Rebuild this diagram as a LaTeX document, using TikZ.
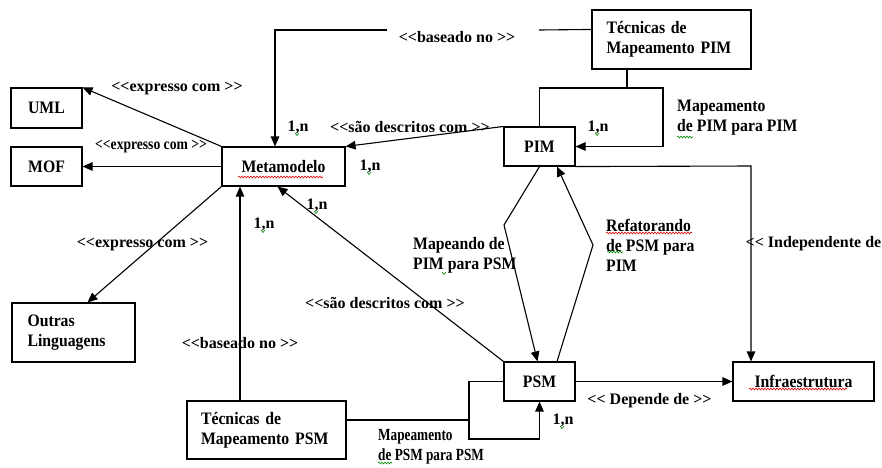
\documentclass[tikz,border=0pt]{standalone}
\usepackage{fontspec}
\setmainfont{Liberation Serif}[Ligatures=TeXOff]
\newfontfamily\bxfont{Liberation Serif}[FakeStretch=0.9,Ligatures=TeXOff]
\newfontfamily\smfont{Liberation Serif}[FakeStretch=0.78,Ligatures=TeXOff]
\newfontfamily\lbfont{Liberation Serif}[Ligatures=TeXOff]
\usetikzlibrary{arrows.meta,calc,decorations.pathmorphing}
\begin{document}
\begin{tikzpicture}[x=1pt,y=-1pt,
  box/.style={draw, line width=1.1pt, inner sep=0pt, align=center,
    font=\bxfont\bfseries\fontsize{17.5}{20}\selectfont},
  lab/.style={inner sep=0pt, font=\lbfont\bfseries\fontsize{16}{18}\selectfont},
  mlab/.style={inner sep=0pt, align=left, anchor=west,
    font=\bxfont\bfseries\fontsize{17.5}{20}\selectfont},
  slab/.style={inner sep=0pt, align=left, anchor=west,
    font=\smfont\bfseries\fontsize{17}{20}\selectfont},
  conn/.style={line width=1.1pt},
  arr/.style={conn, -{Triangle[length=10pt,width=8.5pt]}},
  redwavy/.style={red!85!black, line width=0.6pt, decorate,
    decoration={snake, amplitude=0.9pt, segment length=3pt}},
  greenwavy/.style={green!55!black, line width=0.6pt, decorate,
    decoration={snake, amplitude=0.9pt, segment length=3pt}},
  tick/.style={green!55!black, line width=0.6pt}
]
\useasboundingbox (0,0) rectangle (882,467);

% boxes
\node[box, minimum width=71, minimum height=40] (uml) at (46.5,108) {UML};
\node[box, minimum width=71, minimum height=39] (mof) at (46.5,166.5) {MOF};
\node[box, minimum width=123, minimum height=39] (meta) at (283.5,166.5) {Metamodelo};
\node[box, minimum width=159, minimum height=59, text width=130, align=left] (tecpim) at (671.5,39.5) {Técnicas de\\Mapeamento PIM};
\node[box, minimum width=71, minimum height=39] (pim) at (539.5,146.5) {PIM};
\node[box, minimum width=71, minimum height=39] (psm) at (539.5,381.5) {PSM};
\node[box, minimum width=141, minimum height=39] (infra) at (803.5,381.5) {Infraestrutura};
\node[box, minimum width=123, minimum height=59, text width=92, align=left] (outras) at (73.5,332.5) {Outras\\Linguagens};
\node[box, minimum width=159, minimum height=58, text width=131, align=left] (tecpsm) at (266.5,430) {Técnicas de\\Mapeamento PSM};

% helper coordinates
\coordinate (g1) at (539,30);
\coordinate (g2) at (387,30);
\coordinate (b1) at (275,30);
\coordinate (l1) at (627,88);
\coordinate (l3) at (663,88);
\coordinate (i1) at (751,166);
\coordinate (m1) at (504,225);
\coordinate (r1) at (593,245);
\coordinate (t1) at (240,300);
\coordinate (p1) at (469,439);
\coordinate (p2) at (469,420);

% connectors
\draw[arr] (meta.north west) -- (uml.north east);
\draw[arr] (meta.west) -- (mof.east);
\draw[arr] (meta.south west) -- ($(outras.north west)+(76,0)$);
\draw[conn] ($(tecpim.north west)+(0,20)$) -- (g1);
\draw[arr] (g2) -- (b1) -- (b1 |- meta.north);
\draw[arr] (pim.north west) -- (meta.north east);
\draw[conn] (tecpim.south -| l1) -- (l1);
\draw[arr] (pim.north) -- (pim.north |- l1) -- (l3) -- (l3 |- pim.east) -- (pim.east);
\draw[arr] (pim.south east) -- (i1) -- (i1 |- infra.north);
\draw[arr] (pim.south) -- (m1) -- ($(psm.north)+(-2,0)$);
\draw[arr] ($(psm.north)+(17.5,0)$) -- (r1) -- ($(pim.south)+(17.5,0)$);
\draw[arr] (psm.north west) -- ($(meta.south)+(-6,0)$);
\draw[arr] (tecpsm.north -| t1) -- (meta.south -| t1);
\draw[arr] (psm.east) -- (infra.west);
\draw[arr] (psm.west) -- (psm.west -| p1) -- (p1) -- (p1 -| psm.south) -- (psm.south);
\draw[conn] (tecpsm.east |- p2) -- (p2);

% labels
\node[lab] (e1) at (177,89) {<<expresso com >>};
\node[lab] (e2) at (151,147) {\scalebox{0.85}[1]{<<expresso com >>}};
\node[lab] (e3) at (142.5,245) {<<expresso com >>};
\node[lab] (bs1) at (457,37) {<<baseado no >>};
\node[lab] (bs2) at (240,343) {<<baseado no >>};
\node[lab] (sd1) at (410,127) {<<são descritos com >>};
\node[lab] (sd2) at (385,303) {<<são descritos com >>};
\node[lab] (dep) at (649.5,401) {<< Depende de >>};
\node[lab] (ind) at (813.5,244) {<< Independente de};
\node[mlab] (mpp) at (677,118) {Mapeamento\\de PIM para PIM};
\node[mlab] (mps) at (413,255) {Mapeando de\\PIM para PSM};
\node[mlab] (ref) at (606,245) {Refatorando\\de PSM para\\PIM};
\node[slab] (mss) at (378,447) {Mapeamento\\de PSM para PSM};
\node[lab] (n1) at (298,127) {1,n};
\node[lab] (n2) at (370,166) {1,n};
\node[lab] (n3) at (317,205) {1,n};
\node[lab] (n4) at (264,224) {1,n};
\node[lab] (n5) at (598,127) {1,n};
\node[lab] (n6) at (563,420) {1,n};

% spell-check marks
\draw[redwavy] (238,177) -- (323,177);
\draw[redwavy] (749,389) -- (847,389);
\draw[redwavy] (606,233) -- (692,233);
\draw[greenwavy] (677,137) -- (693,137);
\draw[greenwavy] (607,252) -- (623,252);
\draw[greenwavy] (378,463) -- (392,463);
\foreach \n in {n1,n2,n3,n4,n5,n6}
  \draw[tick] ($(\n)+(-3,6)$) -- ++(2,2.5) -- ++(2,-2.5);
\draw[tick] (442,272) -- ++(2,2.5) -- ++(2,-2.5);
\end{tikzpicture}
\end{document}
